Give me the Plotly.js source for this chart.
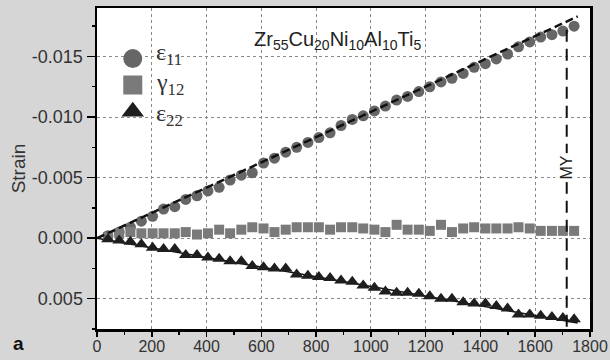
<!DOCTYPE html>
<html><head><meta charset="utf-8">
<script src="https://cdn.plot.ly/plotly-3.0.1.min.js"></script>
<style>html,body{margin:0;padding:0;background:#d6d6d6}</style>
</head><body><div id="chart" style="width:610px;height:360px"></div>
<script>
// Load (x) and strain series
const loadX = [40,81,122,162,203,243,284,324,365,405,446,486,527,567,608,648,689,729,770,810,851,891,932,972,1013,1053,1094,1134,1175,1215,1256,1296,1337,1377,1418,1458,1499,1539,1580,1620,1661,1701,1742];
const eps11 = [-0.0002,-0.0005,-0.0009,-0.0014,-0.0018,-0.0024,-0.0026,-0.0032,-0.0035,-0.0039,-0.0042,-0.0048,-0.0052,-0.0054,-0.0062,-0.0066,-0.0071,-0.0075,-0.0079,-0.0083,-0.0087,-0.0093,-0.0098,-0.0101,-0.0105,-0.0109,-0.0114,-0.0117,-0.0121,-0.0125,-0.0129,-0.0132,-0.0136,-0.0141,-0.0144,-0.0148,-0.0152,-0.0158,-0.0162,-0.0166,-0.0168,-0.0171,-0.0175];
const gam12 = [-0.0001,-0.0004,-0.0005,-0.0004,-0.0004,-0.0004,-0.0004,-0.0005,-0.0003,-0.0004,-0.0007,-0.0004,-0.0007,-0.0009,-0.0008,-0.0005,-0.0007,-0.0009,-0.0009,-0.0009,-0.0007,-0.0009,-0.0009,-0.0008,-0.0007,-0.0005,-0.0011,-0.0007,-0.0007,-0.0006,-0.0011,-0.0005,-0.0008,-0.0009,-0.0008,-0.0008,-0.0008,-0.0009,-0.0008,-0.0006,-0.0006,-0.0006,-0.0006];
const eps22 = [0.0001,0.0002,0.0003,0.0005,0.0008,0.0009,0.0009,0.0014,0.0014,0.0016,0.0017,0.0019,0.0019,0.0023,0.0024,0.0025,0.0025,0.0030,0.0031,0.0032,0.0033,0.0035,0.0036,0.0039,0.0041,0.0044,0.0045,0.0045,0.0046,0.0048,0.0050,0.0050,0.0053,0.0054,0.0054,0.0056,0.0058,0.0063,0.0063,0.0064,0.0065,0.0066,0.0067];
const fitX = [0, 1755];
const fit11 = [0, -0.0183];
const fit22 = [0, 0.0070];
const myX = [1715, 1715];
const myY = [-0.0172, 0.0075];
const seriesNames = ['ε<sub>11</sub>', 'γ<sub>12</sub>', 'ε<sub>22</sub>'];
const titleText = 'Zr<sub>55</sub>Cu<sub>20</sub>Ni<sub>10</sub>Al<sub>10</sub>Ti<sub>5</sub>';
const yTickVals = [-0.015, -0.010, -0.005, 0.000, 0.005];
const yTickText = ['-0.015', '-0.010', '-0.005', '0.000', '0.005'];
const xTickVals = [0, 200, 400, 600, 800, 1000, 1200, 1400, 1600, 1800];

const colors = ['#666666', '#7a7a7a', '#1e1e1e'];
const symbols = ['circle', 'square', 'triangle-up'];
const sizes = [11, 10, 12];
const legendLine = [3, 3, 2];
const seriesY = [eps11, gam12, eps22];
const legendLabelY = [0.857, 0.763, 0.666];

const traces = [
  {x: fitX, y: fit22, mode: 'lines', line: {color: '#111', width: 1.5}, showlegend: false, hoverinfo: 'skip'}
];
seriesY.forEach((ys, i) => {
  traces.push({x: loadX, y: ys, mode: 'markers', name: seriesNames[i], showlegend: false, legendgroup: 'g' + i,
               marker: {symbol: symbols[i], size: sizes[i], color: colors[i]}});
});
// legend symbols (larger, no data); their labels are drawn as annotations below
seriesY.forEach((ys, i) => {
  traces.push({x: [null], y: [null], mode: 'markers', name: ' ', legendgroup: 'g' + i,
               marker: {symbol: symbols[i], size: 16, color: colors[i], line: {color: colors[i], width: legendLine[i]}}});
});
traces.push({x: fitX, y: fit11, mode: 'lines', line: {color: '#111', width: 2.5, dash: '8px,4px'}, showlegend: false, hoverinfo: 'skip'});
traces.push({x: myX, y: myY, mode: 'lines', line: {color: '#111', width: 2, dash: '12px,7px'}, showlegend: false, hoverinfo: 'skip'});

const tickFont = {family: 'Liberation Sans, Arial, sans-serif', size: 17, color: '#333'};
const annotations = [
  {text: titleText, xref: 'paper', yref: 'paper', x: 0.488, y: 0.900, xanchor: 'center', yanchor: 'middle', showarrow: false,
   font: {family: 'Liberation Sans, Arial, sans-serif', size: 20, color: '#222'}},
  {text: 'MY', xref: 'x', yref: 'y', x: 1715, y: -0.0058, textangle: -90, showarrow: false, bgcolor: '#ffffff', borderpad: 2,
   font: {family: 'Liberation Sans, Arial, sans-serif', size: 16, color: '#222'}},
  {text: '<b>a</b>', xref: 'paper', yref: 'paper', x: -0.175, y: -0.045, xanchor: 'left', yanchor: 'middle', showarrow: false,
   font: {family: 'Liberation Sans, Arial, sans-serif', size: 19, color: '#111'}}
];
seriesNames.forEach((nm, i) => {
  annotations.push({text: nm, xref: 'paper', yref: 'paper', x: 0.116, y: legendLabelY[i], xanchor: 'left', yanchor: 'middle',
                    showarrow: false, font: {family: 'Liberation Serif, serif', size: 24, color: '#333'}});
});

const layout = {
  width: 610, height: 360,
  margin: {l: 97, r: 20, t: 8, b: 31},
  paper_bgcolor: '#d6d6d6', plot_bgcolor: '#ffffff',
  showlegend: true,
  legend: {x: 0.032, y: 0.899, xanchor: 'left', yanchor: 'top', bgcolor: 'rgba(0,0,0,0)', tracegroupgap: 0,
           font: {family: 'Liberation Serif, serif', size: 18, color: '#333'}, itemsizing: 'trace'},
  xaxis: {range: [0, 1800], tickmode: 'array', tickvals: xTickVals, ticks: 'outside', ticklen: 5, tickwidth: 1.5, tickcolor: '#000',
          showline: true, linewidth: 2.5, linecolor: '#000', mirror: true, zeroline: false,
          showgrid: true, gridcolor: '#8a8a8a', griddash: 'dot', gridwidth: 1, ticklabelstandoff: -4,
          minor: {dtick: 100, tick0: 0, ticks: 'outside', ticklen: 3, tickwidth: 1.5, tickcolor: '#000', showgrid: false},
          tickfont: Object.assign({}, tickFont, {size: 16})},
  yaxis: {range: [0.0075, -0.019], tickmode: 'array', tickvals: yTickVals, ticktext: yTickText, ticks: 'outside', ticklen: 8, tickwidth: 1.5, tickcolor: '#000',
          showline: true, linewidth: 2.5, linecolor: '#000', mirror: true, zeroline: false,
          showgrid: true, gridcolor: '#8a8a8a', griddash: 'dot', gridwidth: 1,
          minor: {dtick: 0.0025, tick0: 0, ticks: 'outside', ticklen: 3, tickwidth: 1.5, tickcolor: '#000', showgrid: false},
          tickfont: Object.assign({}, tickFont, {size: 18}),
          title: {text: 'Strain', font: {family: 'Liberation Sans, Arial, sans-serif', size: 19, color: '#333'}, standoff: 1}},
  annotations: annotations
};
Plotly.newPlot('chart', traces, layout, {displayModeBar: false, staticPlot: true});
</script></body></html>
